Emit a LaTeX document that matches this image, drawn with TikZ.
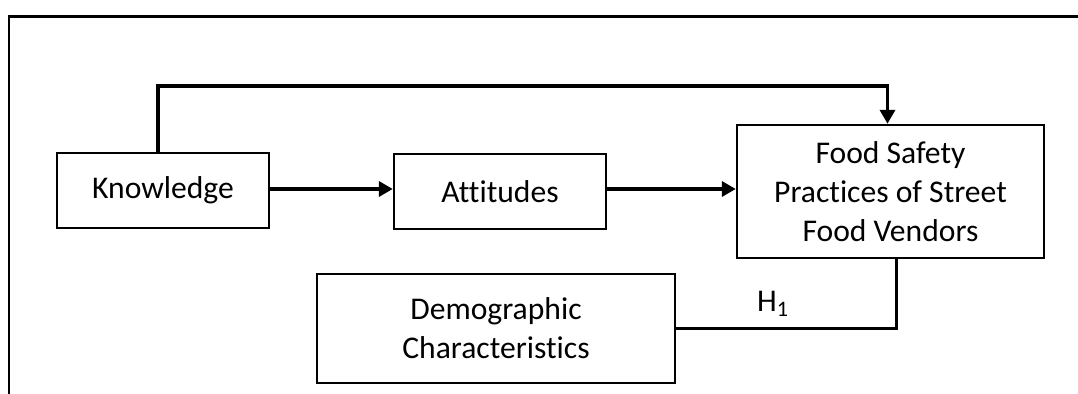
\documentclass[tikz,border=0pt]{standalone}
\usepackage{fontspec}
\setmainfont[Ligatures=NoCommon]{Carlito}
\usetikzlibrary{arrows.meta,positioning}
\tikzset{box/.style={draw=black, line width=1.2pt, inner sep=0, align=center, font=\fontsize{15.8}{19.5}\selectfont},
  conn/.style={line width=1.8pt},
  tip/.style={-{Triangle[length=7pt,width=7.5pt]}}}

\begin{document}
\begin{tikzpicture}[x=0.5pt,y=-0.5pt]
    \useasboundingbox (0,0) rectangle (1078,394);
    % frame
    \draw[line width=1.2pt] (9,394) -- (9,16.5) -- (1078,16.5);

    \node[box,minimum width=106pt,minimum height=37.5pt](K) at (163,190.5) {Knowledge};
    \node[box,minimum width=106pt,minimum height=37.5pt](A) at (500,191.5) {Attitudes};
    \node[box,minimum width=153.5pt,minimum height=66.5pt](F) at (890.5,191.5) {Food Safety\\Practices of Street\\Food Vendors};
    \node[box,minimum width=179pt,minimum height=54.5pt](D) at (496,328.5) {Demographic\\Characteristics};

    \draw[conn,tip] (K.east |- 0,189) -- (A.west |- 0,189);
    \draw[conn,tip] (A.east |- 0,189) -- (F.west |- 0,189);
    \draw[conn,tip] ([xshift=-2.5pt]K.north) -- ++(0,-66) -| ([xshift=-1.5pt]F.north);
    \draw[conn] ([xshift=3pt]F.south) |- (D.east) node[pos=0.78,above=2pt,font=\fontsize{15.8}{19.5}\selectfont] {H\textsubscript{1}};
\end{tikzpicture}
\end{document}
